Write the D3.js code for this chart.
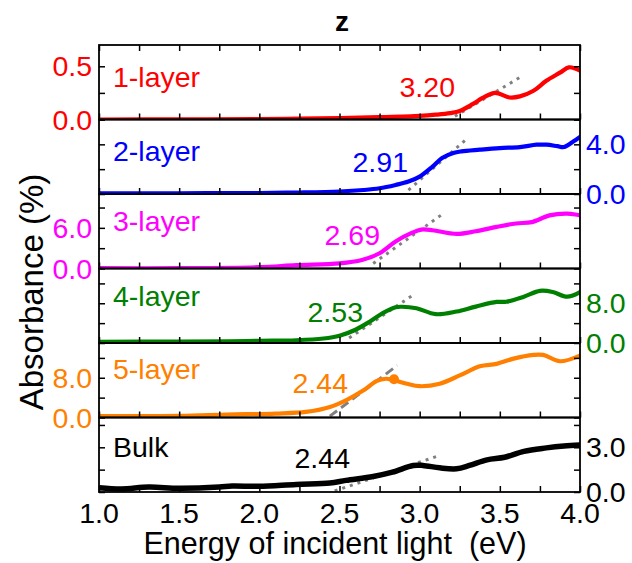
<!DOCTYPE html>
<html><head><meta charset="utf-8">
<script src="https://cdn.jsdelivr.net/npm/d3@7"></script>
<style>body{margin:0;background:#fff;} text{font-family:"Liberation Sans",Arial,sans-serif;}</style>
</head><body><svg id="c" width="632" height="563"></svg>
<script>
// ---------- data ----------
const layerNames = ["1-layer","2-layer","3-layer","4-layer","5-layer","Bulk"];
const gapLabels = ["3.20","2.91","2.69","2.53","2.44","2.44"];
const colors = ["#ff0000","#0000ff","#ff00ff","#008000","#ff8000","#000000"];
const yMax = [0.7, 6, 11, 15, 15, 5];
const yTickStep = [0.25, 2, 3, 4, 4, 1.5];
const yLabelTicks = [[0.0,0.5],[0.0,4.0],[0.0,6.0],[0.0,8.0],[0.0,8.0],[0.0,3.0]];
const yLabelSide = ["left","right","left","right","left","right"];
const xTicks = [1.0,1.5,2.0,2.5,3.0,3.5,4.0];

const e1 = [1.0,1.5,2.0,2.25,2.5,2.75,3.0,3.1,3.19,3.25,3.33,3.39,3.46,3.49,3.56,3.625,3.71,3.79,3.875,3.93,3.97,4.0];
const a1 = [0.0,0.001,0.004,0.008,0.014,0.022,0.034,0.045,0.06,0.08,0.144,0.20,0.248,0.246,0.207,0.217,0.27,0.364,0.44,0.49,0.48,0.46];
const e2 = [1.0,1.5,2.0,2.25,2.5,2.65,2.75,2.85,2.93,3.0,3.08,3.14,3.21,3.26,3.375,3.5,3.625,3.73,3.79,3.86,3.9,3.96,4.0];
const a2 = [0.05,0.06,0.08,0.12,0.2,0.32,0.46,0.73,1.0,1.4,2.2,2.9,3.3,3.43,3.57,3.7,3.78,3.97,3.97,3.85,3.78,4.24,4.6];
const e3 = [1.0,1.5,2.0,2.23,2.5,2.64,2.75,2.85,2.95,3.01,3.08,3.23,3.35,3.48,3.6,3.7,3.81,3.92,4.0];
const a3 = [0.05,0.05,0.2,0.5,0.75,1.25,2.25,4.0,5.25,5.75,5.65,5.1,5.5,6.15,6.65,6.85,7.85,8.1,7.85];
const e4 = [1.0,1.5,1.81,2.0,2.23,2.4,2.5,2.6,2.69,2.77,2.85,2.89,2.98,3.1,3.23,3.35,3.48,3.54,3.65,3.75,3.83,3.92,4.0];
const a4 = [0.25,0.3,0.33,0.45,0.55,0.9,1.47,2.67,4.33,6.0,7.2,7.3,7.0,5.8,6.33,7.33,8.27,8.3,9.33,10.5,10.27,9.33,10.27];
const e5 = [1.0,1.5,1.8,2.1,2.29,2.44,2.54,2.65,2.73,2.79,2.83,2.92,3.0,3.125,3.25,3.375,3.48,3.58,3.71,3.77,3.875,4.0];
const a5 = [0.3,0.35,0.6,0.8,1.13,2.13,3.47,5.47,7.33,7.8,7.6,6.8,6.3,6.8,8.47,10.3,10.8,11.8,12.6,12.6,11.33,12.47];
const e6 = [1.0,1.14,1.31,1.5,1.75,1.83,2.0,2.23,2.44,2.54,2.71,2.83,2.96,3.02,3.125,3.23,3.31,3.42,3.53,3.65,3.79,3.9,4.0];
const a6 = [0.29,0.2,0.33,0.25,0.33,0.4,0.38,0.51,0.6,0.78,1.04,1.33,1.78,1.78,1.62,1.56,1.78,2.16,2.33,2.73,2.96,3.09,3.16];
const seriesE = [e1,e2,e3,e4,e5,e6];
const seriesA = [a1,a2,a3,a4,a5,a6];

// tangent (fit) lines: [E start, E end] and [A start, A end]
const fitE = [[3.22,3.63],[2.93,3.29],[2.71,3.15],[2.56,2.95],[2.44,2.86],[2.47,3.11]];
const fitA = [[0.03,0.40],[0.32,4.4],[0.75,8.15],[1.0,9.47],[0.27,10.47],[0.07,2.4]];
const markerE = [2.84], markerA = [7.7]; // dot on 5-layer curve

// ---------- layout ----------
const L = 99, R = 580, T = 45, B = 492, nP = 6;
const pH = (B - T) / nP;
const svg = d3.select("#c");
const x = d3.scaleLinear().domain([1, 4]).range([L, R]);
const fs = 28.5;
const nameBase = [87,161,231,306,379,457];
const gapEnd = [455,408,380,363,348,350];
const gapBase = [97,172,245,322,393,468];
const lineW = [4.2,4.2,4.2,4.2,4.2,5.5];

for (let i = 0; i < nP; i++) {
  const top = T + i * pH, bot = top + pH;
  const y = d3.scaleLinear().domain([0, yMax[i]]).range([bot, top]);
  const g = svg.append("g");
  const clipId = "clip" + i;
  svg.append("clipPath").attr("id", clipId).append("rect")
    .attr("x", L).attr("y", top - 3).attr("width", R - L).attr("height", pH + 3);

  // fit line
  const fl = fitE[i].map((e, k) => [e, fitA[i][k]]);
  g.append("path").datum(fl)
    .attr("d", d3.line().x(d => x(d[0])).y(d => y(d[1])))
    .attr("clip-path", `url(#${clipId})`)
    .attr("fill", "none").attr("stroke", "#808080").attr("stroke-width", 3)
    .attr("stroke-dasharray", i === 4 ? "9,5" : "3,5");

  // curve
  const pts = seriesE[i].map((e, k) => [e, seriesA[i][k]]);
  g.append("path").datum(pts)
    .attr("d", d3.line().x(d => x(d[0])).y(d => y(d[1])).curve(d3.curveCatmullRom.alpha(0.5)))
    .attr("clip-path", `url(#${clipId})`)
    .attr("fill", "none").attr("stroke", colors[i]).attr("stroke-width", lineW[i])
    .attr("stroke-linejoin", "round").attr("stroke-linecap", "round");

  if (i === 4) {
    g.selectAll("circle.m").data(markerE.map((e, k) => [e, markerA[k]])).enter()
      .append("circle").attr("cx", d => x(d[0])).attr("cy", d => y(d[1]))
      .attr("r", 5).attr("fill", colors[i]);
  }

  // y axes (ticks inward, both sides)
  const yt = d3.range(0, yMax[i] + 1e-9, yTickStep[i]);
  const axL = d3.axisRight(y).tickValues(yt).tickSize(6).tickFormat("");
  const axR = d3.axisLeft(y).tickValues(yt).tickSize(6).tickFormat("");
  const gl = g.append("g").attr("transform", `translate(${L},0)`).call(axL);
  const gr = g.append("g").attr("transform", `translate(${R},0)`).call(axR);
  [gl, gr].forEach(a => { a.select(".domain").remove(); a.selectAll("line").attr("stroke", "#000").attr("stroke-width", 1.5); });

  // x ticks on bottom of each panel (inward)
  const xt = d3.range(1, 4.0001, 0.25);
  const gx = g.append("g").attr("transform", `translate(0,${bot})`)
    .call(d3.axisTop(x).tickValues(xt).tickSize(6).tickFormat(""));
  gx.select(".domain").remove();
  gx.selectAll("line").attr("stroke", "#000").attr("stroke-width", 1.5);
  if (i === 0) {
    const gt = g.append("g").attr("transform", `translate(0,${top})`)
      .call(d3.axisBottom(x).tickValues(xt).tickSize(6).tickFormat(""));
    gt.select(".domain").remove();
    gt.selectAll("line").attr("stroke", "#000").attr("stroke-width", 1.5);
  }

  // panel frame
  g.append("rect").attr("x", L).attr("y", top).attr("width", R - L).attr("height", pH)
    .attr("fill", "none").attr("stroke", "#000").attr("stroke-width", 1.8);

  // y tick labels
  const side = yLabelSide[i];
  g.selectAll("text.yl").data(yLabelTicks[i]).enter().append("text")
    .attr("x", side === "left" ? L - 7 : R + 6)
    .attr("y", d => y(d) + 10)
    .attr("text-anchor", side === "left" ? "end" : "start")
    .attr("font-size", fs).attr("fill", colors[i])
    .text(d => d.toFixed(1));

  // labels
  g.append("text").attr("x", 113).attr("y", nameBase[i]).attr("font-size", fs)
    .attr("fill", colors[i]).text(layerNames[i]);
  g.append("text").attr("x", gapEnd[i]).attr("y", gapBase[i]).attr("font-size", fs)
    .attr("text-anchor", "end").attr("fill", colors[i]).text(gapLabels[i]);
}

// x tick labels
svg.selectAll("text.xt").data(xTicks).enter().append("text")
  .attr("x", d => x(d)).attr("y", 523).attr("text-anchor", "middle")
  .attr("font-size", fs).attr("fill", "#000").text(d => d.toFixed(1));

// axis titles
svg.append("text").attr("x", 335).attr("y", 554).attr("text-anchor", "middle")
  .attr("font-size", 30.5).text("Energy of incident light\u00a0 (eV)");
svg.append("text").attr("transform", `translate(43,292) rotate(-90)`).attr("text-anchor", "middle")
  .attr("font-size", 33).text("Absorbance (%)");
svg.append("text").attr("x", 342).attr("y", 31).attr("text-anchor", "middle")
  .attr("font-size", 28).attr("font-weight", "bold").text("z");
</script></body></html>
